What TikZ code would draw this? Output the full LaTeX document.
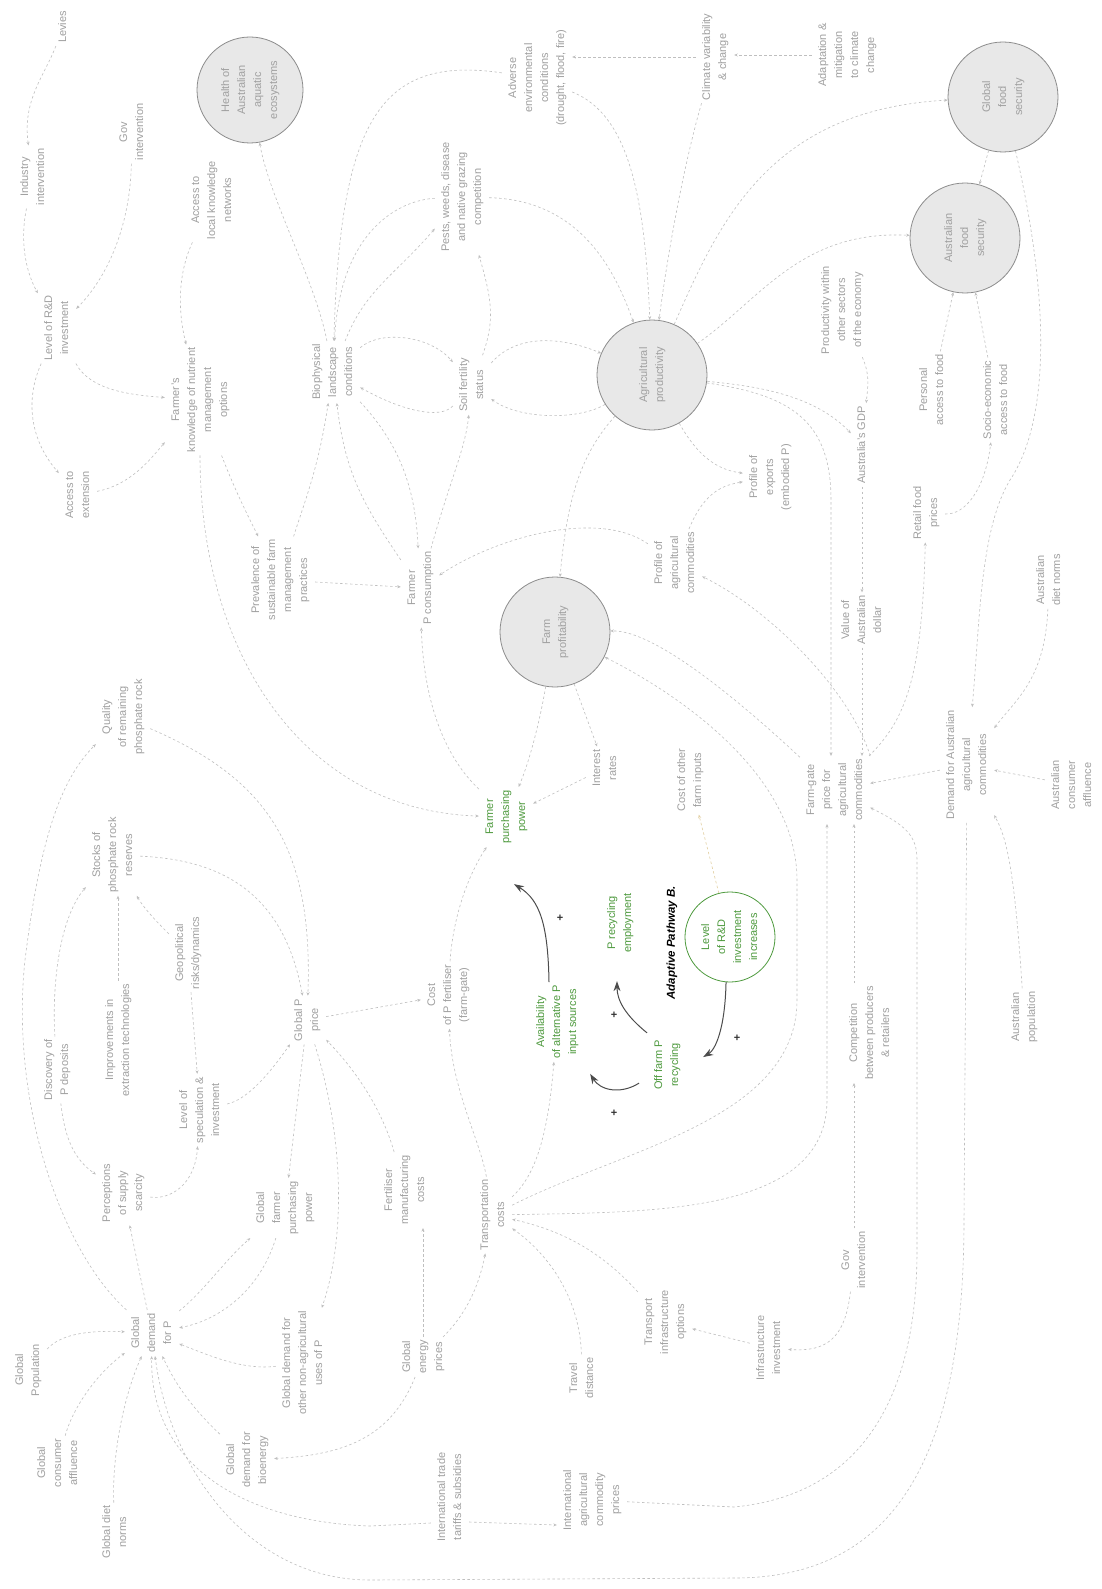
\documentclass[tikz,border=0pt]{standalone}
\usepackage{graphicx}
\usepackage{fontspec}
\setmainfont{Liberation Sans}
\usetikzlibrary{arrows.meta}
\definecolor{tg}{HTML}{A0A0A0}
\definecolor{lg}{HTML}{BFBFBF}
\definecolor{gr}{HTML}{4E9A3E}
\definecolor{cf}{HTML}{E8E8E8}
\definecolor{cd}{HTML}{8C8C8C}
\definecolor{tancol}{HTML}{E2CFA0}
\newcommand{\vt}[1]{\rotatebox{90}{\begin{tabular}{@{}c@{}}#1\end{tabular}}}
\begin{document}
\begin{tikzpicture}[x=1pt,y=-1pt,
 txt/.style={inner sep=3pt, text=tg, font=\fontsize{11}{16}\selectfont},
 gtxt/.style={txt, text=gr},
 circ/.style={circle, draw=cd, fill=cf, line width=0.8pt, minimum size=110pt, inner sep=0pt, text=tg, font=\fontsize{11}{16}\selectfont},
 con/.style={draw=lg, line width=0.6pt, dash pattern=on 2.5pt off 2.5pt, -{Stealth[length=3.5pt,width=3pt]}},
 blk/.style={draw=black!70, line width=1pt, -{Stealth[length=10pt,width=7pt]}},
 plus/.style={font=\fontsize{11}{11}\selectfont\bfseries, text=black!80, inner sep=0pt},
]
\fill[white] (0,0) rectangle (1102,1589);
\useasboundingbox (0,0) rectangle (1102,1589);

% ---- nodes ----
\node[txt] (lev) at (63,27) {\vt{Levies}};
\node[txt] (indi) at (33,177) {\vt{Industry\\intervention}};
\node[txt] (gov1) at (132,132) {\vt{Gov\\intervention}};
\node[txt] (rd) at (57,328) {\vt{Level of R\&D\\investment}};
\node[txt] (ext) at (78,495) {\vt{Access to\\extension}};
\node[txt] (loc) at (212,200) {\vt{Access to\\local knowledge\\networks}};
\node[circ, minimum size=106pt] (hae) at (250,90) {\vt{Health of\\Australian\\aquatic\\ecosystems}};
\node[txt] (fk) at (200,400) {\vt{Farmer's\\knowledge of nutrient\\management\\options}};
\node[txt] (bio) at (333,372) {\vt{Biophysical\\landscape\\conditions}};
\node[txt] (prev) at (280,580) {\vt{Prevalence of\\sustainable farm\\management\\practices}};
\node[txt] (pest) at (462,197) {\vt{Pests, weeds, disease\\and native grazing\\competition}};
\node[txt] (adv) at (537,78) {\vt{Adverse\\environmental\\conditions\\(drought, flood, fire)}};
\node[txt] (clim) at (715,57) {\vt{Climate variability\\\& change}};
\node[txt] (adap) at (847,55) {\vt{Adaptation \&\\mitigation\\to climate\\change}};
\node[circ] (gfs) at (1003,97) {\vt{Global\\food\\security}};
\node[circ] (afs) at (965,238) {\vt{Australian\\food\\security}};
\node[txt] (prod) at (842,310) {\vt{Productivity within\\other sectors\\of the economy}};
\node[circ] (agp) at (652,375) {\vt{Agricultural\\productivity}};
\node[txt] (soil) at (472,385) {\vt{Soil fertility\\status}};
\node[txt] (fpc) at (420,588) {\vt{Farmer\\P consumption}};
\node[circ] (fprof) at (555,632) {\vt{Farm\\profitability}};
\node[txt] (pac) at (675,563) {\vt{Profile of\\agricultural\\commodities}};
\node[txt] (pex) at (770,477) {\vt{Profile of\\exports\\(embodied P)}};
\node[txt] (gdp) at (862,445) {\vt{Australia's GDP}};
\node[txt] (pers) at (932,390) {\vt{Personal\\access to food}};
\node[txt] (socio) at (996,400) {\vt{Socio-economic\\access to food}};
\node[txt] (retail) at (926,513) {\vt{Retail food\\prices}};
\node[txt] (aud) at (862,620) {\vt{Value of\\Australian\\dollar}};
\node[txt] (adiet) at (1049,580) {\vt{Australian\\diet norms}};
\node[txt] (fg) at (835,790) {\vt{Farm-gate\\price for\\agricultural\\commodities}};
\node[txt] (dem) at (967,765) {\vt{Demand for Australian\\agricultural\\commodities}};
\node[txt] (aca) at (1072,785) {\vt{Australian\\consumer\\affluence}};
\node[txt] (int) at (605,768) {\vt{Interest\\rates}};
\node[txt] (coi) at (690,780) {\vt{Cost of other\\farm inputs}};
\node[gtxt] (fpp) at (506,817) {\vt{Farmer\\purchasing\\power}};
\node[txt] (qual) at (123,717) {\vt{Quality\\of remaining\\phosphate rock}};
\node[txt] (stock) at (113,855) {\vt{Stocks of\\phosphate rock\\reserves}};
\node[txt] (geo) at (188,953) {\vt{Geopolitical\\risks/dynamics}};
\node[txt] (impr) at (118,1040) {\vt{Improvements in\\extraction technologies}};
\node[txt] (disc) at (57,1070) {\vt{Discovery of\\P deposits}};
\node[txt] (spec) at (200,1110) {\vt{Level of\\speculation \&\\investment}};
\node[txt] (gpp) at (307,1020) {\vt{Global P\\price}};
\node[txt] (cpf) at (448,995) {\vt{Cost\\of P fertiliser\\(farm-gate)}};
\node[txt, text=black, font=\fontsize{11.5}{14}\selectfont\bfseries\itshape] (apb) at (672,943) {\vt{Adaptive Pathway B.}};
\node[gtxt] (prec) at (620,923) {\vt{P recycling\\employment}};
\node[gtxt] (avail) at (557,1022) {\vt{Availability\\of alternative P\\input sources}};
\node[gtxt] (off) at (667,1065) {\vt{Off farm P\\recycling}};
\node[circ, draw=gr, fill=white, minimum size=90pt, text=gr] (rdi) at (730,937) {\vt{Level\\of R\&D\\investment\\increases}};
\node[txt] (comp) at (870,1033) {\vt{Competition\\between producers\\\& retailers}};
\node[txt] (apop) at (1024,1017) {\vt{Australian\\population}};
\node[txt] (perc) at (123,1193) {\vt{Perceptions\\of supply\\scarcity}};
\node[txt] (gfpp) at (285,1208) {\vt{Global\\farmer\\purchasing\\power}};
\node[txt] (fmc) at (405,1190) {\vt{Fertiliser\\manufacturing\\costs}};
\node[txt] (trans) at (493,1215) {\vt{Transportation\\costs}};
\node[txt] (gov2) at (854,1260) {\vt{Gov\\intervention}};
\node[txt] (gdem) at (152,1333) {\vt{Global\\demand\\for P}};
\node[txt] (goth) at (303,1363) {\vt{Global demand for\\other non-agricultural\\uses of P}};
\node[txt] (tio) at (665,1322) {\vt{Transport\\infrastructure\\options}};
\node[txt] (ii) at (769,1348) {\vt{Infrastructure\\investment}};
\node[txt] (gpop) at (28,1370) {\vt{Global\\Population}};
\node[txt] (gep) at (423,1357) {\vt{Global\\energy\\prices}};
\node[txt] (td) at (582,1378) {\vt{Travel\\distance}};
\node[txt] (gca) at (58,1463) {\vt{Global\\consumer\\affluence}};
\node[txt] (gbio) at (247,1460) {\vt{Global\\demand for\\bioenergy}};
\node[txt] (gdiet) at (115,1532) {\vt{Global diet\\norms}};
\node[txt] (itt) at (450,1497) {\vt{International trade\\tariffs \& subsidies}};
\node[txt] (iacp) at (592,1500) {\vt{International\\agricultural\\commodity\\prices}};

% ---- dashed connectors ----
\draw[con] (lev) .. controls (45,75) and (22,100) .. (indi);
\draw[con] (indi) .. controls (20,240) and (25,270) .. (rd);
\draw[con] (gov1) .. controls (130,230) and (105,280) .. (rd);
\draw[con] (rd) .. controls (25,400) and (30,440) .. (ext);
\draw[con] (rd) .. controls (90,390) and (130,395) .. (fk);
\draw[con] (ext) .. controls (130,485) and (150,460) .. (fk);
\draw[con] (loc) .. controls (175,280) and (180,320) .. (fk);
\draw[con] (bio) .. controls (315,280) and (270,200) .. (hae);
\draw[con] (adv) .. controls (380,55) and (340,120) .. (bio);
\draw[con] (pest) .. controls (400,200) and (340,230) .. (bio);
\draw[con] (bio) .. controls (365,290) and (395,275) .. (pest);
\draw[con] (bio) .. controls (380,330) and (430,335) .. (soil);
\draw[con] (soil) .. controls (440,420) and (400,410) .. (bio);
\draw[con] (soil) .. controls (520,330) and (570,340) .. (agp);
\draw[con] (agp) .. controls (580,420) and (520,420) .. (soil);
\draw[con] (soil) .. controls (495,320) and (492,300) .. (pest);
\draw[con] (pest) .. controls (580,200) and (615,270) .. (agp);
\draw[con] (adv) .. controls (630,115) and (645,200) .. (agp);
\draw[con] (clim) .. controls (685,160) and (668,250) .. (agp);
\draw[con] (clim.west) -- (clim.west -| adv.east);
\draw[con] (adap.west) -- (adap.west -| clim.east);
\draw[con] (agp) .. controls (720,220) and (770,110) .. (gfs);
\draw[con] (agp) .. controls (760,300) and (800,230) .. (afs);
\draw[con] (gfs) -- (afs);
\draw[con] (agp) .. controls (740,385) and (810,390) .. (gdp);
\draw[con] (prod) .. controls (870,375) and (868,385) .. (gdp);
\draw[con] (pers) -- (afs);
\draw[con] (socio) -- (afs);
\draw[con] (retail) .. controls (965,515) and (985,490) .. (socio);
\draw[con] (fg) .. controls (905,720) and (922,680) .. (retail);
\draw[con] (gdp) -- (aud);
\draw[con] (aud) -- (aud |- fg.north);
\draw[con] (agp) .. controls (790,395) and (831,420) .. (831,500) -- ([xshift=-4pt]fg.north);
\draw[con] (fg.north east) .. controls (850,690) and (770,610) .. (pac);
\draw[con] (fg) .. controls (760,720) and (660,630) .. (fprof);
\draw[con] (trans) .. controls (620,1150) and (797,1120) .. (797,1000) -- (797,880) .. controls (797,780) and (690,700) .. (fprof);
\draw[con] (trans) .. controls (650,1212) and (827,1215) .. (827,1100) -- ([xshift=-8pt]fg.south);
\draw[con] ([xshift=-16pt]comp.north) -- ([xshift=19pt]fg.south);
\draw[con] (gov2) -- ([xshift=-16pt]comp.south);
\draw[con] (gov2) .. controls (845,1340) and (825,1352) .. (ii);
\draw[con] (ii) -- (tio);
\draw[con] (tio) .. controls (600,1250) and (560,1230) .. (trans);
\draw[con] (td) .. controls (580,1300) and (550,1255) .. (trans);
\draw[con] (gep) .. controls (470,1310) and (480,1280) .. (trans);
\draw[con] (gep.north) -- (gep.north |- fmc.south);
\draw[con] (gep) .. controls (390,1440) and (340,1455) .. (gbio);
\draw[con] (fmc) .. controls (385,1120) and (365,1080) .. (gpp);
\draw[con] (trans) .. controls (480,1140) and (452,1090) .. (cpf);
\draw[con] (trans) .. controls (530,1180) and (547,1150) .. (avail);
\draw[con] (cpf) .. controls (452,930) and (462,885) .. (fpp);
\draw[con] (gpp) -- (cpf);
\draw[con] (fk) .. controls (200,650) and (300,810) .. (fpp);
\draw[con] (fk) .. controls (235,490) and (245,510) .. (prev);
\draw[con] (prev) .. controls (305,500) and (318,470) .. (bio);
\draw[con] (fpc) .. controls (360,500) and (345,470) .. (bio);
\draw[con] (bio) .. controls (395,440) and (415,480) .. (fpc);
\draw[con] (prev) -- (fpc);
\draw[con] (fpc) .. controls (450,480) and (465,450) .. (soil);
\draw[con] (pac) .. controls (600,510) and (500,535) .. (fpc);
\draw[con] (agp) .. controls (580,455) and (567,500) .. (fprof);
\draw[con] (agp) .. controls (700,460) and (720,470) .. (pex);
\draw[con] (pac) .. controls (705,490) and (725,485) .. (pex);
\draw[con] (fprof) -- (int);
\draw[con] (fprof) .. controls (540,720) and (530,760) .. (fpp);
\draw[con] (int) -- (fpp);
\draw[con] (fpp) .. controls (470,780) and (425,740) .. (fpc);
\draw[con] (dem) -- (fg);
\draw[con] (aca) -- (dem);
\draw[con] (apop) .. controls (1014,860) and (1005,835) .. (dem);
\draw[con] (adiet) .. controls (1045,680) and (1015,700) .. (dem);
\draw[con] (gfs) .. controls (1050,300) and (1050,420) .. (1010,480) .. controls (980,530) and (980,620) .. (dem);
\draw[con] (dem) -- (964,1220) .. controls (964,1480) and (880,1578) .. (734,1578) -- (370,1580) .. controls (250,1580) and (170,1470) .. (gdem);
\draw[con] (iacp) -- (734,1507) .. controls (860,1495) and (917,1400) .. (917,1250) -- (917,860) .. controls (917,835) and (905,825) .. (fg);
\draw[con] ([yshift=-25pt]itt.east) -- ([yshift=-25pt]iacp.west);
\draw[con] ([yshift=-26pt]itt.west) -- (370,1526) .. controls (250,1522) and (150,1470) .. (gdem);
\draw[con] (gdem) .. controls (60,1250) and (10,1100) .. (25,960) .. controls (40,840) and (60,780) .. (qual);
\draw[con] (gdem) -- (perc);
\draw[con] (gdem) .. controls (205,1290) and (225,1260) .. (gfpp);
\draw[con] (gfpp) .. controls (260,1290) and (220,1320) .. (gdem);
\draw[con] (gpop) .. controls (60,1335) and (85,1330) .. (gdem);
\draw[con] (gca) .. controls (72,1410) and (95,1375) .. (gdem);
\draw[con] (gdiet) .. controls (112,1460) and (122,1400) .. (gdem);
\draw[con] (gbio) .. controls (205,1420) and (180,1395) .. (gdem);
\draw[con] (goth) .. controls (245,1370) and (215,1358) .. (gdem);
\draw[con] (gpp) -- (gfpp);
\draw[con] (gpp) .. controls (345,1140) and (345,1240) .. (goth);
\draw[con] (disc) .. controls (52,990) and (58,920) .. (stock);
\draw[con] (disc) .. controls (65,1140) and (75,1160) .. (perc);
\draw[con] (impr.north) -- (impr.north |- stock.south);
\draw[con] (geo) .. controls (160,925) and (145,910) .. (stock);
\draw[con] (stock) .. controls (230,860) and (285,900) .. (gpp);
\draw[con] (qual) .. controls (270,780) and (313,850) .. (gpp);
\draw[con] (geo) -- (spec);
\draw[con] (spec) .. controls (245,1100) and (265,1080) .. (gpp);
\draw[con] (perc) .. controls (170,1200) and (195,1185) .. (spec);
\draw[con, draw=tancol] (rdi) -- (coi);

% ---- adaptive pathway (solid) ----
\draw[blk] ([xshift=-8pt]avail.north) .. controls (548,925) and (540,900) .. ([shift={(8pt,-37pt)}]fpp.south);
\draw[blk] ([shift={(-20pt,4pt)}]off.north) .. controls (625,1015) and (617,1000) .. ([shift={(-3pt,-25pt)}]prec.south);
\draw[blk] ([shift={(-28pt,10pt)}]off.south) .. controls (620,1095) and (600,1090) .. ([shift={(6pt,-12pt)}]avail.south east);
\draw[blk] (rdi.-95) .. controls (725,1030) and (715,1050) .. ([shift={(17pt,8pt)}]off.east);
\node[plus] (p1) at (560,918) {+};
\node[plus] (p2) at (614,1015) {+};
\node[plus] (p3) at (614,1113) {+};
\node[plus] (p4) at (737,1038) {+};
\end{tikzpicture}
\end{document}
